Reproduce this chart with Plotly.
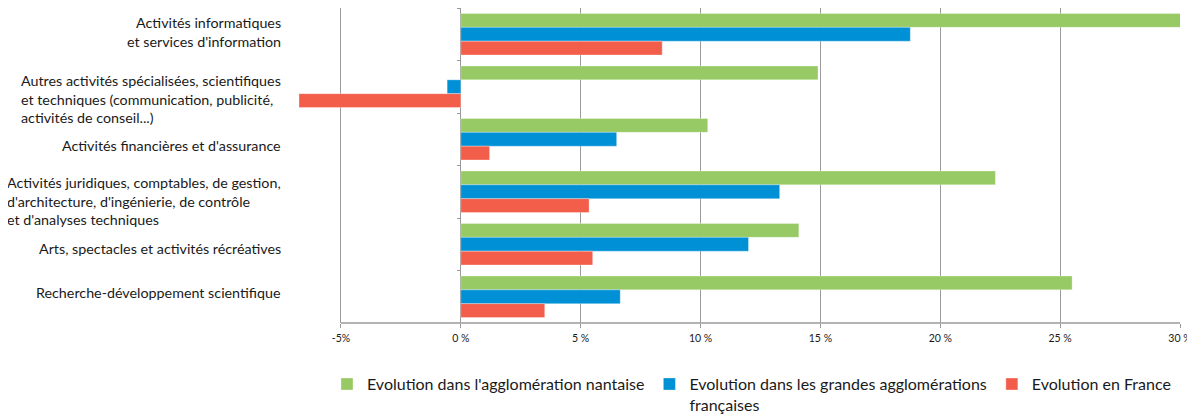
import plotly.graph_objects as go

categories = [
    "Activités informatiques<br>et services d'information",
    "Autres activités spécialisées, scientifiques<br>et techniques (communication, publicité,<br>activités de conseil...)",
    "Activités financières et d'assurance",
    "Activités juridiques, comptables, de gestion,<br>d'architecture, d'ingénierie, de contrôle<br>et d'analyses techniques",
    "Arts, spectacles et activités récréatives",
    "Recherche-développement scientifique",
]
label_align = ["right", "left", "left", "left", "left", "left"]
label_yshift = [2.5, -12, -6, -9.5, -4, 4.5]

series_names = [
    "Evolution dans l'agglomération nantaise",
    "Evolution dans les grandes agglomérations<br>françaises",
    "Evolution en France",
]
nantes = [30.1, 14.9, 10.3, 22.3, 14.1, 25.5]
grandes = [18.75, -0.57, 6.5, 13.3, 12.0, 6.65]
france = [8.4, -6.75, 1.2, 5.35, 5.5, 3.5]

tick_vals = [-5, 0, 5, 10, 15, 20, 25, 30]
tick_text = ["-5%", "0 %", "5 %", "10 %", "15 %", "20 %", "25 %", "30 %"]

colors = ["#97CA64", "#0090D5", "#F35E4B"]
x_min, x_max = -7, 30
grid_col = "#9a9a9a"

fig = go.Figure()
for name, vals, col in zip(series_names, [nantes, grandes, france], colors):
    fig.add_trace(go.Bar(
        y=categories, x=vals, name=name, orientation="h",
        marker=dict(color=col, line=dict(color="rgba(255,255,255,0.6)", width=0.5)),
    ))

for cat, al, ys in zip(categories, label_align, label_yshift):
    fig.add_annotation(
        x=-0.0113, xref="paper", y=cat, yref="y", text=cat, yshift=ys,
        xanchor="right", yanchor="middle", align=al, showarrow=False,
        font=dict(family="Lato", size=14.3, color="#1a1a1a"),
    )

# bottom axis line starting at the -5 % gridline
fig.add_shape(type="line", xref="x", yref="paper", x0=tick_vals[0], x1=tick_vals[-1],
              y0=0, y1=0, line=dict(color=grid_col, width=1.5))

# page body has an 8px margin: figure is drawn at (8, 8)
fig.update_layout(
    width=1187, height=406,
    margin=dict(l=285, r=15, t=0, b=91, autoexpand=False),
    barmode="group", bargap=0.21, bargroupgap=0,
    plot_bgcolor="white", paper_bgcolor="white",
    font=dict(family="Lato", color="#1a1a1a"),
    xaxis=dict(
        range=[x_min, x_max], tickvals=tick_vals, ticktext=tick_text,
        showgrid=True, gridcolor=grid_col, gridwidth=1,
        zeroline=False, showline=False,
        ticks="outside", ticklen=4, tickcolor=grid_col,
        ticklabelstandoff=1, automargin=False,
        tickfont=dict(family="Lato", size=10.5, color="#1a1a1a"),
    ),
    yaxis=dict(
        autorange="reversed", showticklabels=False, showgrid=False,
        zeroline=False, showline=False, anchor="free", position=-x_min / (x_max - x_min),
        ticks="outside", tickson="boundaries", ticklen=4, tickcolor=grid_col,
        automargin=False,
    ),
    legend=dict(
        orientation="h", x=0.0383, xanchor="left", y=-0.14, yanchor="top",
        font=dict(family="Lato", size=16, color="#1a1a1a"),
        itemwidth=30, valign="top",
    ),
    showlegend=True,
)

fig.write_html("out.html")
